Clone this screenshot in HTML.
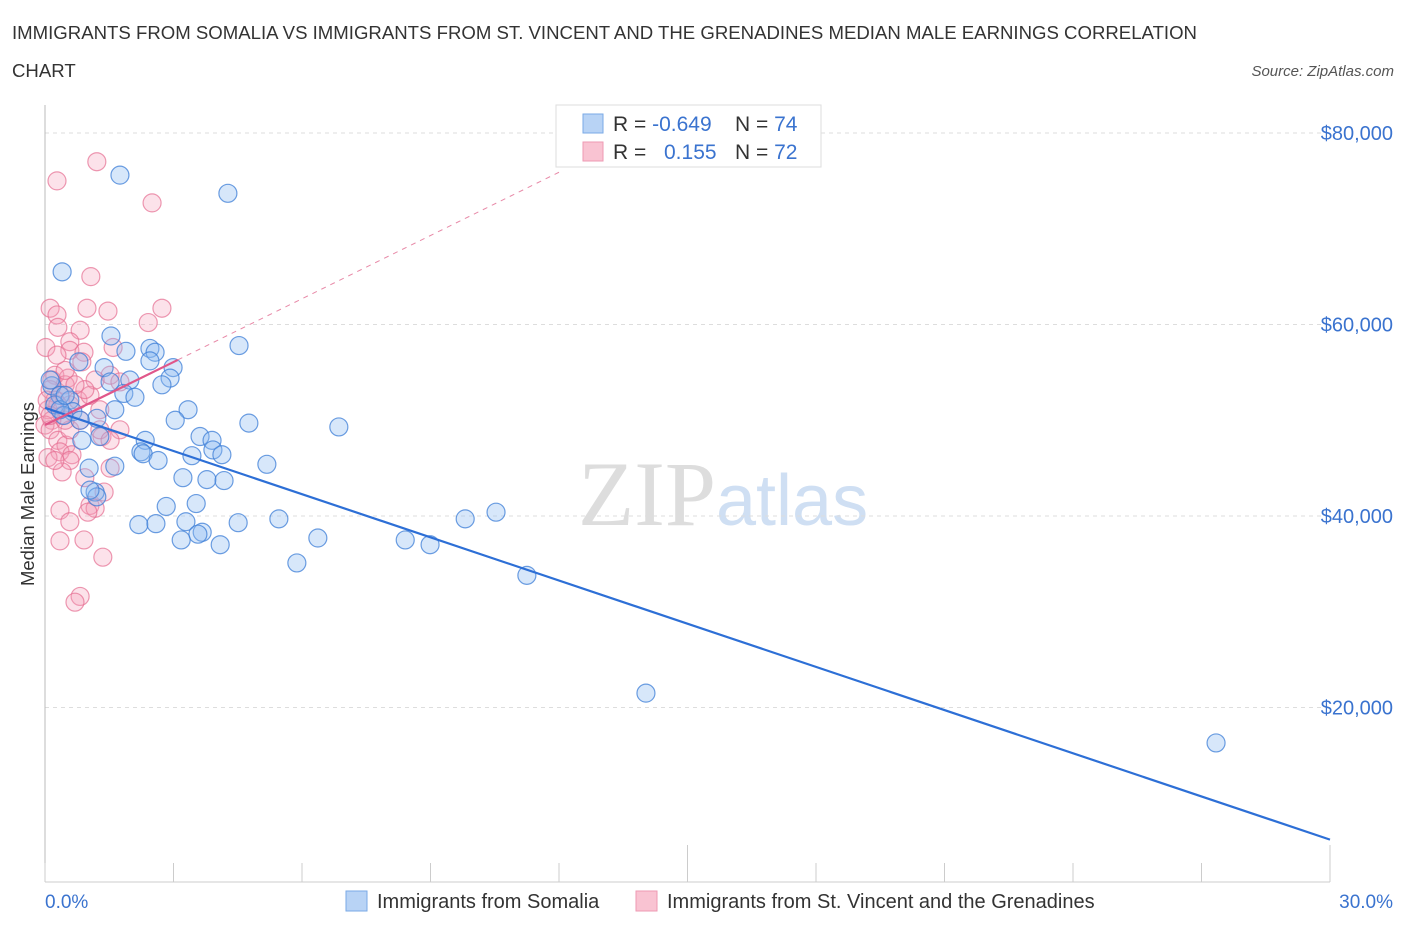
<!DOCTYPE html>
<html><head><meta charset="utf-8">
<style>
body{margin:0;background:#fff;font-family:"Liberation Sans",sans-serif;}
svg{display:block}
</style></head>
<body>
<svg id="chart" width="1406" height="930" viewBox="0 0 1406 930">
<text x="12" y="39" font-size="18.6" fill="#333">IMMIGRANTS FROM SOMALIA VS IMMIGRANTS FROM ST. VINCENT AND THE GRENADINES MEDIAN MALE EARNINGS CORRELATION</text>
<text x="12" y="77" font-size="18.6" fill="#333">CHART</text>
<text x="1394" y="76" font-size="15" fill="#555" font-style="italic" text-anchor="end">Source: ZipAtlas.com</text>
<text x="716" y="525" font-size="92" fill="#ddd" font-family="Liberation Serif,serif" text-anchor="end">ZIP</text>
<text x="716" y="525" font-size="72" fill="#cfdff3" text-anchor="start">atlas</text>
<text transform="translate(34,494) rotate(-90)" font-size="18.5" fill="#333" text-anchor="middle">Median Male Earnings</text>
<g id="grid"></g>
<g id="axes"></g>
<g id="pts"></g>
<g id="lines"></g>
<g>
<rect x="556" y="105" width="265" height="62" fill="#fff" stroke="#ddd"/>
<rect x="583" y="114" width="20" height="19" fill="#b8d3f5" stroke="#7aaae6"/>
<rect x="583" y="142" width="20" height="19" fill="#f9c3d2" stroke="#ee9ab3"/>
<text x="613" y="131" font-size="21" fill="#333">R = <tspan fill="#3a73cf">-0.649</tspan></text>
<text x="735" y="131" font-size="21" fill="#333">N = <tspan fill="#3a73cf">74</tspan></text>
<text x="613" y="159" font-size="21" fill="#333">R = </text>
<text x="664" y="159" font-size="21" fill="#3a73cf">0.155</text>
<text x="735" y="159" font-size="21" fill="#333">N = <tspan fill="#3a73cf">72</tspan></text>
</g>
<text x="45" y="908" font-size="19" fill="#3a73cf">0.0%</text>
<text x="1393" y="908" font-size="19" fill="#3a73cf" text-anchor="end">30.0%</text>
<g>
<rect x="346" y="891" width="21" height="20" fill="#b8d3f5" stroke="#7aaae6"/>
<text x="377" y="908" font-size="20" fill="#333">Immigrants from Somalia</text>
<rect x="636" y="891" width="21" height="20" fill="#f9c3d2" stroke="#ee9ab3"/>
<text x="667" y="908" font-size="20" fill="#333">Immigrants from St. Vincent and the Grenadines</text>
</g>
</svg>
<script>
const yTicks=[20000,40000,60000,80000];
const yTickLabels=["$20,000","$40,000","$60,000","$80,000"];
const xTicks=[0,3,6,9,12,15,18,21,24,27,30];
const somaliaX=[1.75,4.27,0.40,1.54,4.53,2.45,2.57,1.89,0.79,1.38,2.99,2.92,1.98,1.52,2.73,0.16,1.84,2.10,0.35,0.58,0.23,0.65,6.86,4.76,3.34,3.04,1.21,0.44,2.34,3.62,3.90,3.92,4.13,2.24,2.29,2.64,3.43,1.28,0.86,5.18,1.63,1.03,3.22,3.78,4.18,1.17,1.21,2.83,3.53,2.19,2.59,3.29,4.51,5.46,9.81,10.53,3.67,3.57,3.18,4.09,6.37,8.41,8.99,5.88,11.25,14.03,27.34,1.05,0.35,0.12,0.82,0.47,1.63,2.45];
const somaliaY=[75.6,73.7,65.5,58.8,57.8,57.5,57.1,57.2,56.1,55.5,55.5,54.4,54.2,54.0,53.7,53.6,52.8,52.4,52.6,52.1,51.6,50.9,49.3,49.7,51.1,50.0,50.2,50.5,47.9,48.3,47.9,46.9,46.4,46.7,46.5,45.8,46.3,48.3,47.9,45.4,45.2,45.0,44.0,43.8,43.7,42.5,42.0,41.0,41.3,39.1,39.2,39.4,39.3,39.7,39.7,40.4,38.3,38.1,37.5,37.0,37.7,37.5,37.0,35.1,33.8,21.5,16.3,42.7,51.1,54.2,50.0,52.6,51.1,56.2];
const vincentX=[1.21,0.28,2.50,1.07,0.12,2.73,0.98,1.47,0.28,2.41,0.30,0.82,0.58,0.02,1.59,0.58,0.91,0.86,0.23,0.54,1.52,1.75,0.47,0.12,0.35,0.23,0.07,0.58,1.28,0.40,0.16,0.00,0.12,1.75,1.33,0.30,0.49,0.35,0.63,0.07,0.58,1.52,0.40,0.93,1.38,1.05,0.35,1.17,1.00,0.58,0.35,0.91,1.35,0.82,0.70,0.23,0.16,0.47,0.77,1.05,1.17,0.30,0.05,0.58,0.82,1.28,0.28,0.93,0.47,0.12,1.52,0.70];
const vincentY=[77.0,75.0,72.7,65.0,61.7,61.7,61.7,61.4,61.0,60.2,59.7,59.4,58.2,57.6,57.6,57.3,57.1,56.1,54.7,54.4,54.7,54.0,53.7,53.2,52.6,52.1,51.1,51.6,51.1,50.5,50.0,49.5,49.0,49.0,48.3,47.9,47.4,46.7,46.4,46.1,45.8,45.0,44.6,44.0,42.5,41.1,40.6,40.8,40.4,39.4,37.4,37.5,35.7,31.6,31.0,45.8,54.2,55.2,52.1,52.6,54.2,51.6,52.1,49.0,50.0,49.0,56.8,53.2,50.0,50.5,47.9,53.7];
const somaliaTrend=[[0,51.3],[30,6.2]];
const vincentTrend=[[0,49.5],[3.1,56.3]];
const vincentTrendExt=[[3.1,56.3],[12,75.9]];

const NS="http://www.w3.org/2000/svg";
const X0=45,X1=1330,Y0=899,PER=191.5/20000;
function sx(v){return X0+(v/30)*(X1-X0);}
function sy(v){return Y0-v*PER;}
function mk(tag,attrs,parent){const e=document.createElementNS(NS,tag);for(const k in attrs)e.setAttribute(k,attrs[k]);parent.appendChild(e);return e;}
const grid=document.getElementById('grid'),axes=document.getElementById('axes'),pts=document.getElementById('pts'),lines=document.getElementById('lines');
yTicks.forEach((t,i)=>{
  const l=mk('line',{x1:45,x2:1330,y1:sy(t),y2:sy(t),stroke:'#ddd','stroke-dasharray':'4,4'},grid);
  
  
  const tx=mk('text',{x:1393,y:sy(t)+7,'font-size':20,fill:'#3a73cf','text-anchor':'end'},axes);
  tx.textContent=yTickLabels[i];
  
  
});
const ax=mk('line',{x1:45,x2:45,y1:105,y2:882,stroke:'#bbb'},axes);


const bx=mk('line',{x1:45,x2:1330,y1:882,y2:882,stroke:'#ccc'},axes);


xTicks.forEach(t=>{
  const long=(t===15||t===30);
  const tk=mk('line',{x1:sx(t),x2:sx(t),y1:long?845:863,y2:882,stroke:'#ccc'},axes);
  
  
});
function drawPts(xs,ys,fill,stroke,name){
  xs.forEach((x,i)=>{
    const c=mk('circle',{cx:sx(x),cy:sy(ys[i]*1000),r:9,fill:fill,stroke:stroke,'stroke-width':1.2},pts);
    
    
  });
}
drawPts(vincentX,vincentY,'rgba(244,160,185,0.3)','rgba(230,110,145,0.7)','stvincent-point');
drawPts(somaliaX,somaliaY,'rgba(140,185,240,0.35)','rgba(60,125,215,0.75)','somalia-point');
function seg(p,stroke,w,dash,name){
  const l=mk('line',{x1:sx(p[0][0]),y1:sy(p[0][1]*1000),x2:sx(p[1][0]),y2:sy(p[1][1]*1000),stroke:stroke,'stroke-width':w},lines);
  if(dash)l.setAttribute('stroke-dasharray',dash);
  
  
}
seg(vincentTrendExt,'#e88aa8',1,'5,5','stvincent-trend-extension');
seg(somaliaTrend,'#2d6fd6',2.2,null,'somalia-trend-line');
seg(vincentTrend,'#e0578a',2.2,null,'stvincent-trend-line');
</script>
</body></html>
